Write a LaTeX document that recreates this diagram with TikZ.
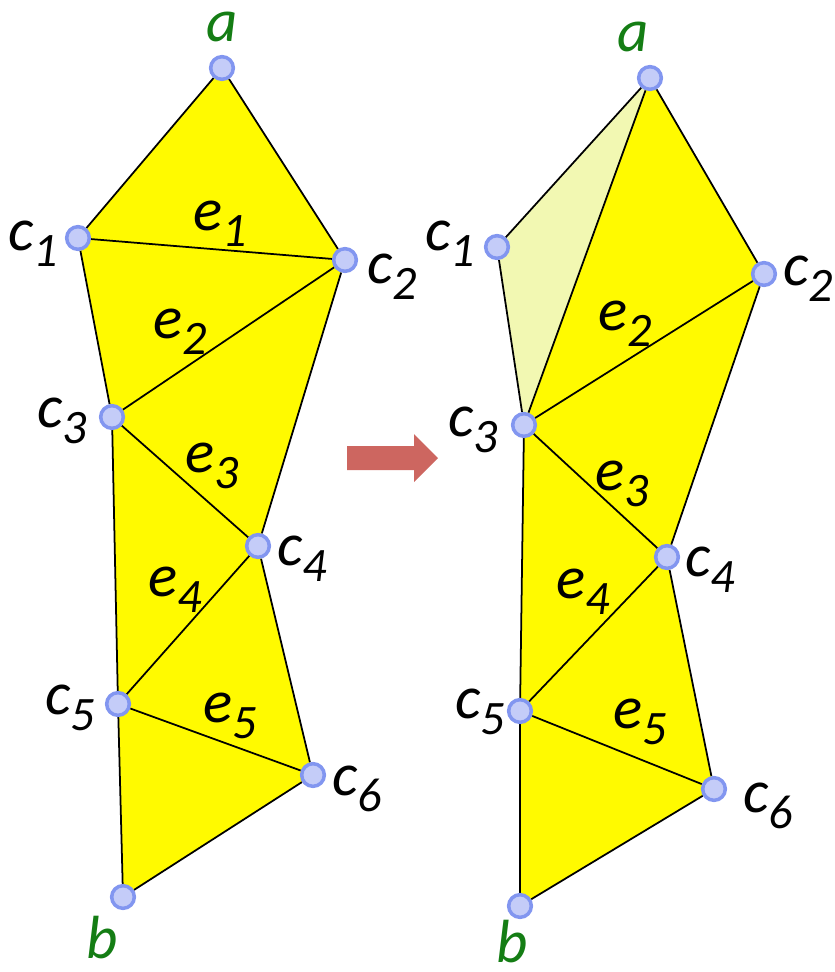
\documentclass[tikz,border=0pt]{standalone}
\usepackage{fontspec}
\setmainfont{Carlito}
\usepackage{tikz}
\usetikzlibrary{positioning,backgrounds}

\definecolor{dotfill}{RGB}{196,204,248}
\definecolor{dotring}{RGB}{130,150,240}
\definecolor{triyellow}{RGB}{255,250,0}
\definecolor{paleyellow}{RGB}{242,248,178}
\definecolor{lblgreen}{RGB}{20,125,20}
\definecolor{arrowred}{RGB}{205,102,96}

% letter with a large subscript
\newcommand{\lab}[2]{#1\raisebox{-14pt}{\fontsize{41}{41}\selectfont\itshape #2}}

\begin{document}
\begin{tikzpicture}[x=0.03cm,y=-0.03cm,
  vtx/.style={circle,fill=dotfill,draw=dotring,line width=3pt,minimum size=0.68cm,inner sep=0pt},
  lbl/.style={anchor=base,inner sep=0pt,font=\fontsize{52}{52}\selectfont\itshape},
  endlbl/.style={lbl,text=lblgreen},
  edge/.style={line width=1.5pt}]
  \useasboundingbox (0,0) rectangle (835,972);
  % left triangulation
  \node[vtx] (la) at (222,68) {};
  \node[vtx] (lc1) at (78,238) {};
  \node[vtx] (lc2) at (345,260) {};
  \node[vtx] (lc3) at (112,417) {};
  \node[vtx] (lc4) at (258,546) {};
  \node[vtx] (lc5) at (118,704) {};
  \node[vtx] (lc6) at (313,775) {};
  \node[vtx] (lb) at (123,897) {};
  % right triangulation
  \node[vtx] (ra) at (650,78) {};
  \node[vtx] (rc1) at (497,247) {};
  \node[vtx] (rc2) at (764,274) {};
  \node[vtx] (rc3) at (524,425) {};
  \node[vtx] (rc4) at (667,557) {};
  \node[vtx] (rc5) at (520,711) {};
  \node[vtx] (rc6) at (714,789) {};
  \node[vtx] (rb) at (520,906) {};
  \begin{scope}[on background layer]
    \fill[triyellow] (la.center) -- (lc2.center) -- (lc4.center) -- (lc6.center)
      -- (lb.center) -- (lc5.center) -- (lc3.center) -- (lc1.center) -- cycle;
    \fill[paleyellow] (ra.center) -- (rc3.center) -- (rc1.center) -- cycle;
    \fill[triyellow] (ra.center) -- (rc2.center) -- (rc4.center) -- (rc6.center)
      -- (rb.center) -- (rc5.center) -- (rc3.center) -- cycle;
    \foreach \s in {l,r} {
      \draw[edge] (\s a) -- (\s c1);
      \draw[edge] (\s a) -- (\s c2);
      \draw[edge] (\s c1) -- (\s c3);
      \draw[edge] (\s c2) -- (\s c3);
      \draw[edge] (\s c2) -- (\s c4);
      \draw[edge] (\s c3) -- (\s c4);
      \draw[edge] (\s c3) -- (\s c5);
      \draw[edge] (\s c4) -- (\s c5);
      \draw[edge] (\s c4) -- (\s c6);
      \draw[edge] (\s c5) -- (\s c6);
      \draw[edge] (\s c5) -- (\s b);
      \draw[edge] (\s c6) -- (\s b);
    }
    \draw[edge] (lc1) -- (lc2);
    \draw[edge] (ra) -- (rc3);
  \end{scope}
  % vertex labels, left
  \node[endlbl] (la-l) at (222,41) {a};
  \node[lbl] (lc1-l) at (33,250) {\lab{c}{1}};
  \node[lbl] (lc2-l) at (392,283) {\lab{c}{2}};
  \node[lbl] (lc3-l) at (62,427) {\lab{c}{3}};
  \node[lbl] (lc4-l) at (302,565) {\lab{c}{4}};
  \node[lbl] (lc5-l) at (70,714) {\lab{c}{5}};
  \node[lbl] (lc6-l) at (357,795) {\lab{c}{6}};
  \node[endlbl] (lb-l) at (102,958) {b};
  % edge labels, left
  \node[lbl] (le1) at (220,230) {\lab{e}{1}};
  \node[lbl] (le2) at (180,338) {\lab{e}{2}};
  \node[lbl] (le3) at (212,472) {\lab{e}{3}};
  \node[lbl] (le4) at (175,596) {\lab{e}{4}};
  \node[lbl] (le5) at (230,722) {\lab{e}{5}};
  % vertex labels, right
  \node[endlbl] (ra-l) at (633,51) {a};
  \node[lbl] (rc1-l) at (450,250) {\lab{c}{1}};
  \node[lbl] (rc2-l) at (808,285) {\lab{c}{2}};
  \node[lbl] (rc3-l) at (473,436) {\lab{c}{3}};
  \node[lbl] (rc4-l) at (710,576) {\lab{c}{4}};
  \node[lbl] (rc5-l) at (480,718) {\lab{c}{5}};
  \node[lbl] (rc6-l) at (768,812) {\lab{c}{6}};
  \node[endlbl] (rb-l) at (512,962) {b};
  % edge labels, right
  \node[lbl] (re2) at (625,330) {\lab{e}{2}};
  \node[lbl] (re3) at (622,490) {\lab{e}{3}};
  \node[lbl] (re4) at (583,598) {\lab{e}{4}};
  \node[lbl] (re5) at (640,728) {\lab{e}{5}};
  % block arrow
  \fill[arrowred] (347,446) -- (414,446) -- (414,434) -- (438,458) -- (414,482)
    -- (414,470) -- (347,470) -- cycle;
\end{tikzpicture}
\end{document}
